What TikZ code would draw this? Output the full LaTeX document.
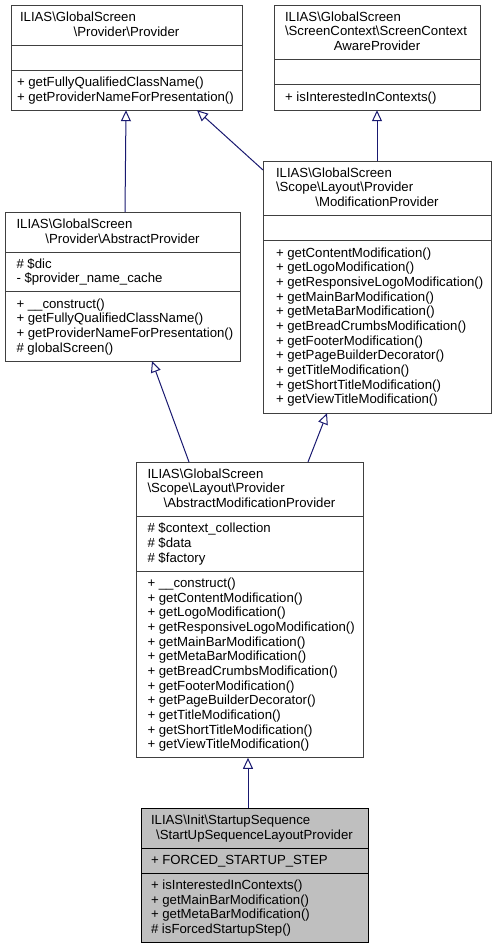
\documentclass[tikz,border=0pt]{standalone}
\usepackage{fontspec}
\setmainfont{Liberation Sans}
\usetikzlibrary{arrows.meta,calc}
\definecolor{clsborder}{HTML}{404040}
\definecolor{edgeblue}{HTML}{191970}
\definecolor{curfill}{HTML}{BFBFBF}
\newcommand\bs{\textbackslash}
\newcommand\clines[4]{%
  \foreach \t [count=\i from 0] in {#4} {\node[txt, anchor=base west] (#1\i) at ({#2},{#3+\i*14.67}) {\t};}}
\tikzset{
  cls/.style={draw=clsborder, line width=1pt, fill=white, inner sep=0pt, outer sep=0pt, anchor=north west},
  cur/.style={cls, draw=black, fill=curfill},
  txt/.style={inner sep=0pt, outer sep=0pt, font=\fontsize{13.2}{14.67}\selectfont},
  inh/.style={draw=edgeblue, line width=1pt, -{Triangle[open, length=11pt, width=10pt, fill=white]}},
  sepline/.style={draw=clsborder, line width=1pt},
  cursep/.style={draw=black, line width=1pt}
}
\begin{document}
\begin{tikzpicture}[x=1pt, y=-1pt]
\useasboundingbox (0,0) rectangle (496,948);

% ---------- Box 1: Provider
\node[cls, minimum width=231pt, minimum height=105.2pt] (b1) at (11,5) {};
\draw[sepline] ($(b1.north west)+(0,40)$) -- ($(b1.north east)+(0,40)$);
\draw[sepline] ($(b1.north west)+(0,65.3)$) -- ($(b1.north east)+(0,65.3)$);
\node[txt, anchor=base west] (b1t0) at (20,21.3) {ILIAS\bs{}GlobalScreen};
\node[txt, anchor=base] (b1t1) at (126.5,36) {\bs{}Provider\bs{}Provider};
\clines{b1m}{17}{86.6}{+ getFullyQualifiedClassName(), + getProviderNameForPresentation()}

% ---------- Box 2: ScreenContextAwareProvider
\node[cls, minimum width=206pt, minimum height=105.2pt] (b2) at (274,5) {};
\draw[sepline] ($(b2.north west)+(0,54.6)$) -- ($(b2.north east)+(0,54.6)$);
\draw[sepline] ($(b2.north west)+(0,79.9)$) -- ($(b2.north east)+(0,79.9)$);
\clines{b2t}{285}{21.3}{ILIAS\bs{}GlobalScreen, \bs{}ScreenContext\bs{}ScreenContext}
\node[txt, anchor=base] (b2t2) at (377,50.6) {AwareProvider};
\clines{b2m}{285}{101.2}{+ isInterestedInContexts()}

% ---------- Box 3: AbstractProvider
\node[cls, minimum width=235pt, minimum height=149.2pt] (b3) at (5,212) {};
\draw[sepline] ($(b3.north west)+(0,40)$) -- ($(b3.north east)+(0,40)$);
\draw[sepline] ($(b3.north west)+(0,79.9)$) -- ($(b3.north east)+(0,79.9)$);
\node[txt, anchor=base west] (b3t0) at (16.5,228.3) {ILIAS\bs{}GlobalScreen};
\node[txt, anchor=base] (b3t1) at (122.5,243) {\bs{}Provider\bs{}AbstractProvider};
\clines{b3a}{16.5}{268.3}{\# \$dic, - \$provider\_name\_cache}
\clines{b3m}{16.5}{308.2}{+ \_\_construct(), + getFullyQualifiedClassName(), + getProviderNameForPresentation(), \# globalScreen()}

% ---------- Box 4: ModificationProvider
\node[cls, minimum width=228pt, minimum height=252.2pt] (b4) at (263,161) {};
\draw[sepline] ($(b4.north west)+(0,54.6)$) -- ($(b4.north east)+(0,54.6)$);
\draw[sepline] ($(b4.north west)+(0,79.9)$) -- ($(b4.north east)+(0,79.9)$);
\clines{b4t}{276}{177.3}{ILIAS\bs{}GlobalScreen, \bs{}Scope\bs{}Layout\bs{}Provider}
\node[txt, anchor=base] (b4t2) at (377,206.6) {\bs{}ModificationProvider};
\clines{b4m}{276}{257.2}{+ getContentModification(), + getLogoModification(), + getResponsiveLogoModification(), + getMainBarModification(), + getMetaBarModification(), + getBreadCrumbsModification(), + getFooterModification(), + getPageBuilderDecorator(), + getTitleModification(), + getShortTitleModification(), + getViewTitleModification()}

% ---------- Box 5: AbstractModificationProvider
\node[cls, minimum width=227pt, minimum height=295.8pt] (b5) at (136,462) {};
\draw[sepline] ($(b5.north west)+(0,54.6)$) -- ($(b5.north east)+(0,54.6)$);
\draw[sepline] ($(b5.north west)+(0,109.2)$) -- ($(b5.north east)+(0,109.2)$);
\clines{b5t}{147.5}{478.3}{ILIAS\bs{}GlobalScreen, \bs{}Scope\bs{}Layout\bs{}Provider}
\node[txt, anchor=base] (b5t2) at (249.5,507.6) {\bs{}AbstractModificationProvider};
\clines{b5a}{147.5}{532.9}{\# \$context\_collection, \# \$data, \# \$factory}
\clines{b5m}{147.5}{587.5}{+ \_\_construct(), + getContentModification(), + getLogoModification(), + getResponsiveLogoModification(), + getMainBarModification(), + getMetaBarModification(), + getBreadCrumbsModification(), + getFooterModification(), + getPageBuilderDecorator(), + getTitleModification(), + getShortTitleModification(), + getViewTitleModification()}

% ---------- Box 6: StartUpSequenceLayoutProvider (current)
\node[cur, minimum width=227pt, minimum height=134.6pt] (b6) at (141,808) {};
\draw[cursep] ($(b6.north west)+(0,40)$) -- ($(b6.north east)+(0,40)$);
\draw[cursep] ($(b6.north west)+(0,65.3)$) -- ($(b6.north east)+(0,65.3)$);
\node[txt, anchor=base west] (b6t0) at (151,824.3) {ILIAS\bs{}Init\bs{}StartupSequence};
\node[txt, anchor=base] (b6t1) at (254.5,839) {\bs{}StartUpSequenceLayoutProvider};
\clines{b6a}{151}{864.3}{+ FORCED\_STARTUP\_STEP}
\clines{b6m}{151}{889.6}{+ isInterestedInContexts(), + getMainBarModification(), + getMetaBarModification(), \# isForcedStartupStep()}

% ---------- Inheritance connectors
\draw[inh] ($(b3.north west)+(120,0)$) -- ($(b1.south west)+(115,0)$);
\draw[inh] ($(b4.north west)+(0,9)$) -- ($(b1.south west)+(186,0)$);
\draw[inh] ($(b4.north west)+(114,0)$) -- ($(b2.south west)+(103,0)$);
\draw[inh] ($(b5.north west)+(53,0)$) -- ($(b3.south west)+(147,0)$);
\draw[inh] ($(b5.north west)+(172,0)$) -- ($(b4.south west)+(64,0)$);
\draw[inh] ($(b6.north west)+(107,0)$) -- ($(b5.south west)+(112,0)$);
\end{tikzpicture}
\end{document}
